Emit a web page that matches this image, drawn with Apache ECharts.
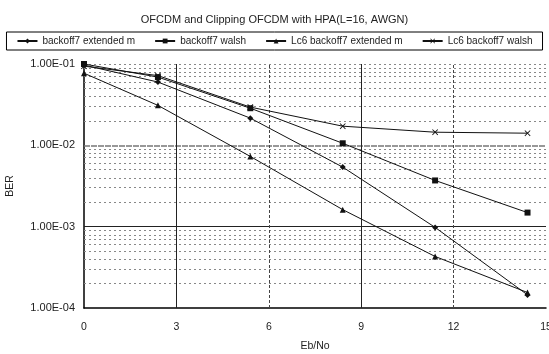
<!DOCTYPE html>
<html>
<head>
<meta charset="utf-8">
<script src="https://cdn.jsdelivr.net/npm/echarts@6/dist/echarts.min.js"></script>
<style>html,body{margin:0;background:#fff}#main{width:549px;height:354px}</style>
</head>
<body>
<div id="main"></div>
<script>
// Eb/No points and BER values
var ebno = [0, 2.4, 5.4, 8.4, 11.4, 14.4];
var extM = [0.097, 0.060, 0.0216, 0.0054, 0.00098, 0.000145];
var walsh = [0.1, 0.069, 0.0286, 0.0106, 0.0037, 0.00149];
var lc6ExtM = [0.077, 0.031, 0.0073, 0.00162, 0.00043, 0.000155];
var lc6Walsh = [0.094, 0.072, 0.0295, 0.0172, 0.0145, 0.0141];
var seriesNames = ['backoff7 extended m', 'backoff7 walsh', 'Lc6 backoff7 extended m', 'Lc6 backoff7 walsh'];
var xSolid = [3, 9];
var xDashed = [6, 12];
var decadeExps = [-4, -3, -2, -1];
var minorSteps = [2, 3, 4, 5, 6, 7, 8, 9];

var chartDom = document.getElementById('main');
var myChart = echarts.init(chartDom);
var font = 'Liberation Sans';

function pts(ys) {
  return ebno.map(function (x, i) { return [x, ys[i]]; });
}

// vertical grid lines
var xLines = [];
xSolid.forEach(function (v) {
  xLines.push({ xAxis: v, lineStyle: { color: '#222', type: 'solid', width: 1 } });
});
xDashed.forEach(function (v) {
  xLines.push({ xAxis: v, lineStyle: { color: '#444', type: [3, 2], width: 1 } });
});

// horizontal grid lines, placed on a hidden linear axis holding log10(BER)
var yLines = [];
decadeExps.slice(0, 3).forEach(function (e) {
  minorSteps.forEach(function (m) {
    yLines.push({ yAxis: e + Math.log10(m), lineStyle: { color: '#888', type: [2, 3], width: 1 } });
  });
});
yLines.push({ yAxis: -3, lineStyle: { color: '#222', type: 'solid', width: 1 } });
yLines.push({ yAxis: -2, lineStyle: { color: '#777', type: [6, 1], width: 1.5 } });
yLines.push({ yAxis: -1, lineStyle: { color: '#888', type: [2, 3], width: 1 } });

var crossPath = 'path://M0,1L1,0L5,4L9,0L10,1L6,5L10,9L9,10L5,6L1,10L0,9L4,5Z';

function line(name, ys, symbol, size) {
  return {
    name: name,
    type: 'line',
    data: pts(ys),
    symbol: symbol,
    symbolSize: size,
    showSymbol: true,
    lineStyle: { color: '#111', width: 1 },
    itemStyle: { color: '#111' },
    z: 5
  };
}

var series = [
  line(seriesNames[0], extM, 'diamond', 6),
  line(seriesNames[1], walsh, 'rect', 6),
  line(seriesNames[2], lc6ExtM, 'triangle', 6),
  line(seriesNames[3], lc6Walsh, crossPath, 6),
  {
    name: 'grid',
    type: 'line',
    yAxisIndex: 1,
    data: [],
    silent: true,
    markLine: {
      silent: true,
      symbol: 'none',
      animation: false,
      label: { show: false },
      data: yLines.concat(xLines)
    }
  }
];

var option = {
  animation: false,
  backgroundColor: '#fff',
  title: {
    text: 'OFCDM and Clipping OFCDM with HPA(L=16, AWGN)',
    left: 'center',
    top: 9,
    textStyle: { fontFamily: font, fontSize: 11, fontWeight: 'normal', color: '#222' }
  },
  legend: {
    data: seriesNames,
    top: 32,
    left: 'center',
    borderColor: '#000',
    borderWidth: 1,
    padding: [4, 10],
    itemGap: 19,
    itemWidth: 20,
    itemHeight: 6,
    textStyle: { fontFamily: font, fontSize: 10, color: '#222' }
  },
  grid: { left: 84, right: 3, top: 64, bottom: 46, outerBoundsMode: 'none' },
  xAxis: {
    type: 'value',
    min: 0,
    max: 15,
    interval: 3,
    name: 'Eb/No',
    nameLocation: 'middle',
    nameGap: 33,
    nameTextStyle: { fontFamily: font, fontSize: 10.5, color: '#222' },
    axisLine: { lineStyle: { color: '#000', width: 1.5 } },
    axisTick: { show: false },
    splitLine: { show: false },
    axisLabel: { fontFamily: font, fontSize: 10.5, color: '#222', margin: 14 }
  },
  yAxis: [{
    type: 'log',
    logBase: 10,
    min: 1e-4,
    max: 1e-1,
    name: 'BER',
    nameLocation: 'middle',
    nameGap: 68,
    nameTextStyle: { fontFamily: font, fontSize: 10.5, color: '#222' },
    axisLine: { show: true, lineStyle: { color: '#000', width: 1.5 } },
    axisTick: { show: false },
    splitLine: { show: false },
    axisLabel: {
      fontFamily: font, fontSize: 11, color: '#222', margin: 9,
      formatter: function (v) {
        var e = Math.round(Math.log10(v));
        var a = Math.abs(e);
        return '1.00E' + (e < 0 ? '-' : '+') + (a < 10 ? '0' + a : a);
      }
    }
  }, {
    type: 'value',
    min: -4,
    max: -1,
    show: false,
    splitLine: { show: false }
  }],
  series: series
};

option && myChart.setOption(option);
</script>
</body>
</html>
